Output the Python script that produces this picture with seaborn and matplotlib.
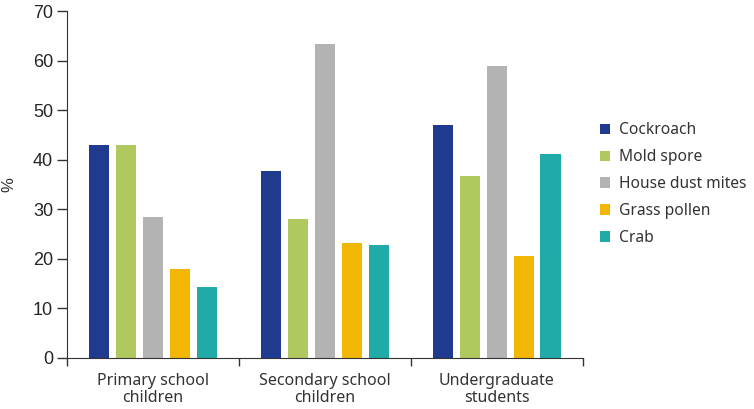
import pandas as pd
import matplotlib.pyplot as plt
import seaborn as sns

groups = ['Primary school\nchildren', 'Secondary school\nchildren', 'Undergraduate\nstudents']
allergens = ['Cockroach', 'Mold spore', 'House dust mites', 'Grass pollen', 'Crab']
cockroach = [43.0, 37.8, 47.1]
mold_spore = [43.0, 28.0, 36.8]
house_dust_mites = [28.5, 63.3, 59.0]
grass_pollen = [17.9, 23.1, 20.6]
crab = [14.3, 22.7, 41.2]
colors = ['#1f3a8f', '#b0c95f', '#b3b3b3', '#f2b705', '#20aaa8']

values = [cockroach, mold_spore, house_dust_mites, grass_pollen, crab]
rows = []
for name, vals in zip(allergens, values):
    for g, v in zip(groups, vals):
        rows.append({'group': g, 'allergen': name, 'pct': v})
df = pd.DataFrame(rows)

sns.set_style('ticks')
plt.rcParams['font.family'] = ['Liberation Sans', 'DejaVu Sans']

fig = plt.figure(figsize=(7.54, 4.09), dpi=100)
ax = fig.add_axes([0.089, 0.125, 0.684, 0.848])
sns.barplot(data=df, x='group', y='pct', hue='allergen', order=groups,
            hue_order=allergens, palette=colors, width=0.78, gap=0.25,
            saturation=1, linewidth=0, ax=ax)

ax.set_xlim(-0.5, 2.5)
ax.set_ylim(0, 70)
ax.set_yticks(range(0, 71, 10))
ax.tick_params(axis='y', labelsize=13, length=7, width=1, color='#333333', pad=3)
ax.set_xticks(range(3))
ax.set_xticklabels(groups, fontsize=11.5, family='Noto Sans', color='#333333',
                   linespacing=1.05)
ax.tick_params(axis='x', which='major', length=0, pad=11)
ax.set_xticks([-0.5, 0.5, 1.5, 2.5], minor=True)
ax.tick_params(axis='x', which='minor', length=6, width=1, color='#333333')
ax.set_xlabel('')
ax.set_ylabel('%', fontsize=12, labelpad=12, color='#333333')
sns.despine(ax=ax)
ax.spines['left'].set_color('#333333')
ax.spines['bottom'].set_color('#333333')

handles, labels = ax.get_legend_handles_labels()
ax.legend_.remove()
fig.legend(handles, labels, loc='center left', bbox_to_anchor=(0.777, 0.55),
           frameon=False, prop={'family': 'Noto Sans', 'size': 11.2},
           handlelength=0.65, handleheight=0.65, handletextpad=0.55,
           labelspacing=0.7, labelcolor='#333333')

fig.savefig('out.png', dpi=100)
